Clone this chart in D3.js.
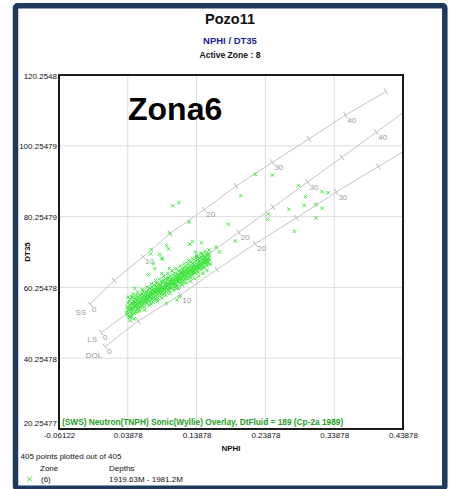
<!DOCTYPE html>
<html><head><meta charset="utf-8">
<script src="https://cdn.jsdelivr.net/npm/d3@7"></script>
<style>
body{margin:0;background:#fff}
svg{display:block}
text{font-family:"Liberation Sans",Arial,sans-serif}
</style>
</head><body>
<svg id="c" width="450" height="489"></svg>
<script>
// ---------- DATA ----------
const xTicks = [-0.06122, 0.03878, 0.13878, 0.23878, 0.33878, 0.43878];
const xTickLabels = ["-0.06122", "0.03878", "0.13878", "0.23878", "0.33878", "0.43878"];
const yTicks = [20.25477, 40.25478, 60.25478, 80.25479, 100.25479, 120.2548];
const yTickLabels = ["20.25477", "40.25478", "60.25478", "80.25479", "100.25479", "120.2548"];

// overlay lines (porosity %, NPHI, DT)
const ssPor  = [0, 5, 10, 15, 20, 25, 30, 35, 40, 45];
const ssNphi = [-0.016, 0.019, 0.061, 0.100, 0.150, 0.196, 0.249, 0.302, 0.355, 0.414];
const ssDt   = [55.5, 62.2, 68.9, 75.5, 82.2, 88.9, 95.6, 102.2, 108.9, 115.6];
const lsPor  = [0, 5, 10, 15, 20, 25, 30, 35, 40, 45];
const lsNphi = [0.000, 0.050, 0.100, 0.150, 0.200, 0.250, 0.300, 0.350, 0.400, 0.450];
const lsDt   = [47.5, 54.6, 61.7, 68.7, 75.8, 82.9, 90.0, 97.0, 104.1, 111.2];
const dolPor  = [0, 5, 10, 15, 20, 25, 30, 35, 40];
const dolNphi = [0.006, 0.054, 0.115, 0.168, 0.224, 0.284, 0.342, 0.403, 0.465];
const dolDt   = [43.5, 50.8, 58.1, 65.3, 72.6, 79.9, 87.2, 94.4, 101.7];
const lithNames = ["SS", "LS", "DOL"];

// zone 6 samples [NPHI, DT35]
const points = [
[0.037,53.2],[0.038,54.8],[0.038,52.6],[0.039,55.9],[0.039,53.9],[0.040,52.1],[0.040,54.5],[0.041,56.4],[0.041,53.4],[0.042,55.2],[0.042,51.8],[0.043,54.1],[0.043,56.9],[0.044,53.0],[0.044,55.6],[0.045,54.6],[0.045,52.5],[0.045,57.4],
[0.046,55.1],[0.046,53.7],[0.047,56.3],[0.047,54.4],[0.048,52.9],[0.048,55.8],[0.049,57.0],[0.049,54.9],[0.050,53.5],[0.050,56.0],[0.051,55.3],[0.051,58.1],[0.052,54.2],[0.052,56.7],[0.053,55.6],[0.053,53.3],[0.054,57.3],[0.054,55.0],[0.055,56.2],[0.055,54.1],
[0.056,57.8],[0.056,55.6],[0.057,56.4],[0.057,54.6],[0.058,57.1],[0.058,55.2],[0.059,58.4],[0.059,56.0],[0.060,54.9],[0.060,57.5],[0.061,56.6],[0.061,59.2],[0.062,55.7],[0.062,57.9],[0.063,56.3],[0.063,54.8],[0.064,58.2],[0.064,57.0],[0.065,55.9],[0.065,57.6],
[0.066,58.7],[0.066,56.5],[0.067,57.4],[0.067,55.8],[0.068,59.5],[0.068,57.9],[0.069,56.8],[0.069,58.5],[0.070,57.3],[0.070,60.1],[0.071,56.2],[0.071,58.9],[0.072,57.7],[0.072,55.6],[0.073,59.2],[0.073,58.1],[0.074,56.9],[0.074,60.4],[0.075,58.4],[0.075,57.2],
[0.076,59.6],[0.076,57.5],[0.077,58.3],[0.077,61.0],[0.078,56.9],[0.078,59.1],[0.079,58.6],[0.079,60.3],[0.080,57.8],[0.080,59.7],[0.081,58.2],[0.081,61.5],[0.082,59.4],[0.082,57.4],[0.083,60.0],[0.083,58.8],[0.084,61.2],[0.084,59.1],[0.085,57.9],[0.085,60.5],
[0.086,59.3],[0.086,61.1],[0.087,58.4],[0.087,60.2],[0.088,62.0],[0.088,59.7],[0.089,58.9],[0.089,61.4],[0.090,60.3],[0.090,58.2],[0.091,62.3],[0.091,59.8],[0.092,60.9],[0.092,58.8],[0.093,61.6],[0.093,59.5],[0.094,60.4],[0.094,62.7],[0.095,59.1],[0.095,61.2],
[0.096,60.7],[0.096,62.4],[0.097,59.6],[0.097,61.5],[0.098,60.2],[0.098,63.1],[0.099,61.0],[0.099,59.4],[0.100,62.0],[0.100,60.5],[0.101,61.7],[0.101,63.5],[0.102,60.1],[0.102,62.6],[0.103,61.3],[0.103,59.9],[0.104,62.9],[0.104,61.6],[0.105,60.8],[0.105,63.8],
[0.106,62.2],[0.106,60.9],[0.107,63.3],[0.107,61.4],[0.108,62.7],[0.108,64.2],[0.109,61.1],[0.109,63.0],[0.110,62.4],[0.110,60.7],[0.111,64.0],[0.111,62.1],[0.112,63.5],[0.112,61.8],[0.113,62.8],[0.113,65.0],[0.114,61.5],[0.114,63.7],[0.115,62.6],[0.115,64.4],
[0.116,63.1],[0.116,61.9],[0.117,64.6],[0.117,62.9],[0.118,63.9],[0.118,65.3],[0.119,62.4],[0.119,64.1],[0.120,63.4],[0.120,61.8],[0.121,65.0],[0.121,63.7],[0.122,64.5],[0.122,62.6],[0.123,63.9],[0.123,66.0],[0.124,62.9],[0.124,64.8],[0.125,63.6],[0.125,65.5],
[0.126,64.2],[0.126,62.8],[0.127,65.7],[0.127,63.9],[0.128,64.9],[0.128,66.4],[0.129,63.5],[0.129,65.2],[0.130,64.4],[0.130,62.9],[0.131,66.1],[0.131,64.8],[0.132,65.5],[0.132,63.7],[0.133,64.9],[0.133,67.0],[0.134,64.0],[0.134,65.8],[0.135,66.6],[0.135,64.6],
[0.136,65.3],[0.136,67.3],[0.137,64.3],[0.137,66.1],[0.138,65.6],[0.138,67.8],[0.139,64.9],[0.139,66.7],[0.140,65.4],[0.140,68.1],[0.141,66.2],[0.141,64.5],[0.142,67.4],[0.142,65.8],[0.143,66.9],[0.143,68.5],[0.144,65.6],[0.144,67.2],[0.145,66.3],[0.145,68.8],
[0.146,67.0],[0.146,65.4],[0.147,68.3],[0.147,66.6],[0.148,67.7],[0.148,69.2],[0.149,66.0],[0.149,68.0],[0.150,67.3],[0.150,65.9],[0.151,69.0],[0.151,67.6],[0.152,66.8],[0.152,68.6],[0.153,67.4],[0.153,69.6],[0.154,66.4],[0.155,68.2],[0.156,67.1],[0.157,69.3],[0.158,68.0],
[0.041,54.3],[0.044,54.0],[0.047,55.5],[0.050,55.0],[0.053,56.0],[0.056,56.8],[0.059,57.0],[0.062,56.9],[0.065,56.8],[0.068,58.2],[0.071,57.6],[0.074,58.6],[0.077,59.0],[0.080,58.9],[0.083,59.5],[0.086,60.1],[0.089,60.0],[0.092,60.3],[0.095,60.2],[0.098,61.2],
[0.101,60.9],[0.104,61.9],[0.107,62.0],[0.110,63.2],[0.113,62.3],[0.116,62.6],[0.119,63.2],[0.122,63.5],[0.125,64.3],[0.128,64.0],[0.131,65.1],[0.134,65.0],[0.137,65.2],[0.140,66.5],[0.143,65.9],[0.146,66.3],[0.149,67.1],[0.152,67.3],[0.155,67.6],[0.058,56.1],
[0.063,57.8],[0.072,58.6],[0.079,59.6],[0.087,59.7],[0.094,61.3],[0.103,62.1],[0.111,62.9],[0.118,64.6],[0.127,64.5],[0.133,66.0],[0.139,66.0],[0.144,66.5],[0.150,68.4],[0.153,68.1],[0.156,68.7],[0.045,55.8],[0.052,55.8],[0.069,57.7],[0.085,58.7],[0.097,62.8],
[0.039,57.5],[0.042,50.9],[0.046,58.3],[0.048,51.4],[0.053,58.9],[0.056,53.6],[0.060,59.6],[0.063,53.9],[0.067,60.4],[0.070,55.1],[0.073,61.3],[0.076,56.0],[0.079,62.2],[0.082,56.3],[0.085,62.6],[0.088,57.2],[0.091,63.4],[0.094,58.0],[0.097,64.2],[0.100,58.6],
[0.103,64.9],[0.106,59.4],[0.109,65.5],[0.112,60.0],[0.115,66.3],[0.118,60.9],[0.121,67.0],[0.124,61.5],[0.127,67.8],[0.130,62.0],[0.133,68.4],[0.136,62.7],[0.139,69.3],[0.142,63.4],[0.145,69.9],[0.148,64.2],[0.151,70.4],[0.154,65.0],[0.157,70.8],[0.159,66.8],
[0.120,65.9],[0.126,66.9],[0.131,67.5],[0.138,68.6],[0.143,67.7],[0.147,69.7],[0.117,61.2],[0.108,60.2],[0.099,60.1],[0.090,59.2],[0.081,60.4],[0.074,59.4],[0.066,59.1],[0.059,55.1],[0.050,57.4],[0.044,51.9],
[0.104,83.3],[0.113,84.2],[0.128,78.7],[0.100,75.5],[0.133,73.2],[0.129,72.5],[0.146,72.9],[0.095,72.1],[0.098,71.1],[0.073,71.0],[0.072,69.7],[0.085,69.6],[0.167,71.6],[0.185,78.1],[0.172,70.3],[0.156,69.9],[0.089,68.3],[0.076,66.9],[0.099,65.6],[0.137,70.3],
[0.139,68.9],[0.224,92.2],[0.249,92.0],[0.203,86.2],[0.287,89.0],[0.297,85.9],[0.321,87.3],[0.330,87.0],[0.295,83.4],[0.312,83.7],[0.321,82.6],[0.273,82.3],[0.243,81.0],[0.242,79.5],[0.312,79.9],[0.281,76.1],[0.195,73.4],[0.069,63.9],[0.088,64.2],[0.049,60.0],
[0.045,57.6],[0.095,55.8],[0.110,56.7],[0.081,56.7],[0.114,57.6],[0.078,65.6],[0.088,68.5],[0.057,58.1]
];

// ---------- LAYOUT ----------
const svg = d3.select("#c");
const L = 59, R = 403, T = 75, B = 429;
const x = d3.scaleLinear().domain([xTicks[0], xTicks[xTicks.length-1]]).range([L, R]);
const y = d3.scaleLinear().domain([yTicks[0], yTicks[yTicks.length-1]]).range([B, T]);

svg.append("rect").attr("width",450).attr("height",489).attr("fill","#fff");
// navy frame
svg.append("rect").attr("x",15.5).attr("y",5.8).attr("width",429.3).attr("height",482.5)
  .attr("rx",2).attr("fill","none").attr("stroke","#1d3a5e").attr("stroke-width",5.5);

// titles
svg.append("text").attr("x",230).attr("y",24).attr("text-anchor","middle")
  .attr("font-size",14.5).attr("font-weight","bold").attr("fill","#111").text("Pozo11");
svg.append("text").attr("x",230).attr("y",44).attr("text-anchor","middle")
  .attr("font-size",9.5).attr("font-weight","bold").attr("fill","#1c1c9c").text("NPHI / DT35");
svg.append("text").attr("x",230).attr("y",58).attr("text-anchor","middle")
  .attr("font-size",8.6).attr("font-weight","bold").attr("fill","#111").text("Active Zone : 8");

// grid
const grid = svg.append("g").attr("stroke","#dcdcdc").attr("stroke-width",1);
grid.selectAll("line.v").data(xTicks.slice(1,-1)).join("line")
  .attr("x1",d=>x(d)).attr("x2",d=>x(d)).attr("y1",T).attr("y2",B);
grid.selectAll("line.h").data(yTicks.slice(1,-1)).join("line")
  .attr("y1",d=>y(d)).attr("y2",d=>y(d)).attr("x1",L).attr("x2",R);

// clip
svg.append("clipPath").attr("id","pc").append("rect").attr("x",L).attr("y",T).attr("width",R-L).attr("height",B-T);

// overlay lines
const lithos = [
  {name:lithNames[0], por:ssPor, nphi:ssNphi, dt:ssDt, off:[-4,11]},
  {name:lithNames[1], por:lsPor, nphi:lsNphi, dt:lsDt, off:[-4,9]},
  {name:lithNames[2], por:dolPor, nphi:dolNphi, dt:dolDt, off:[-3,11]}
];
const ov = svg.append("g").attr("clip-path","url(#pc)");
const lineGen = d3.line().x(d=>x(d[0])).y(d=>y(d[1]));
lithos.forEach(l=>{
  const pts = l.nphi.map((n,i)=>[n,l.dt[i]]);
  ov.append("path").attr("d",lineGen(pts)).attr("fill","none").attr("stroke","#c4c4c4").attr("stroke-width",1);
  pts.forEach((p,i)=>{
    const j = i < pts.length-1 ? i+1 : i-1;
    const dx = x(pts[j][0])-x(p[0]), dy = y(pts[j][1])-y(p[1]);
    const len = Math.hypot(dx,dy);
    const nx = -dy/len*3.5, ny = dx/len*3.5;
    const px = x(p[0]), py = y(p[1]);
    ov.append("line").attr("x1",px-nx).attr("y1",py-ny).attr("x2",px+nx).attr("y2",py+ny)
      .attr("stroke","#b4b4b4").attr("stroke-width",1);
    if (l.por[i] % 10 === 0) {
      ov.append("text").attr("x",px+2).attr("y",py+7.5).attr("font-size",8).attr("fill","#9a9a9a").text(l.por[i]);
    }
  });
  ov.append("text").attr("x",x(pts[0][0])+l.off[0]).attr("y",y(pts[0][1])+l.off[1])
    .attr("text-anchor","end").attr("font-size",8).attr("fill","#9a9a9a").text(l.name);
});

// points
const pg = svg.append("g").attr("clip-path","url(#pc)").attr("stroke","#3ee63e").attr("stroke-width",1).attr("fill","none");
pg.selectAll("path").data(points).join("path")
  .attr("transform",d=>`translate(${x(d[0])},${y(d[1])})`)
  .attr("d","M-1.7,-1.7L1.7,1.7M-1.7,1.7L1.7,-1.7");

// big label
svg.append("text").attr("x",128).attr("y",120).attr("font-family","Lato, 'Open Sans', sans-serif")
  .attr("font-size",32).attr("font-weight","bold").attr("fill","#000").text("Zona6");

// caption inside plot
svg.append("text").attr("x",62).attr("y",425).attr("font-size",8.3).attr("font-weight","bold")
  .attr("fill","#22a022").text("(SWS) Neutron(TNPH) Sonic(Wyllie) Overlay, DtFluid = 189 (Cp-2a 1989)");

// plot border
svg.append("rect").attr("x",L).attr("y",T).attr("width",R-L).attr("height",B-T)
  .attr("fill","none").attr("stroke","#1a1a1a").attr("stroke-width",2);

// axes
const xAxis = d3.axisBottom(x).tickValues(xTicks).tickFormat((d,i)=>xTickLabels[i]).tickSize(0).tickPadding(0);
const gx = svg.append("g").attr("transform",`translate(0,${B})`).call(xAxis);
gx.select(".domain").remove();
gx.selectAll("text").attr("y",9).attr("dy",0).attr("font-size",8).attr("fill","#111").attr("font-family",null);

const yAxis = d3.axisLeft(y).tickValues(yTicks).tickFormat((d,i)=>yTickLabels[i]).tickSize(0).tickPadding(0);
const gy = svg.append("g").attr("transform",`translate(${L-2},0)`).call(yAxis);
gy.select(".domain").remove();
gy.selectAll("text").attr("x",0).attr("dy",3).attr("font-size",8).attr("fill","#111").attr("font-family",null);
gy.selectAll("text").filter((d,i)=>i===0).attr("dy",-4);

svg.append("text").attr("x",231).attr("y",451).attr("text-anchor","middle")
  .attr("font-size",8).attr("font-weight","bold").attr("fill","#111").text("NPHI");
svg.append("text").attr("transform","translate(30,252) rotate(-90)").attr("text-anchor","middle")
  .attr("font-size",8).attr("font-weight","bold").attr("fill","#111").text("DT35");

// footer
svg.append("text").attr("x",20.5).attr("y",459).attr("font-size",8).attr("fill","#111").text("405 points plotted out of 405");
svg.append("text").attr("x",40).attr("y",471).attr("font-size",8).attr("fill","#111").text("Zone");
svg.append("text").attr("x",109).attr("y",471).attr("font-size",8).attr("fill","#111").text("Depths");
svg.append("path").attr("transform","translate(29.5,479)").attr("d","M-2.5,-2.5L2.5,2.5M-2.5,2.5L2.5,-2.5")
  .attr("stroke","#3ee63e").attr("stroke-width",1);
svg.append("text").attr("x",41).attr("y",482).attr("font-size",8).attr("fill","#111").text("(6)");
svg.append("text").attr("x",109).attr("y",482).attr("font-size",8).attr("fill","#111").text("1919.63M - 1981.2M");
</script>
</body></html>
